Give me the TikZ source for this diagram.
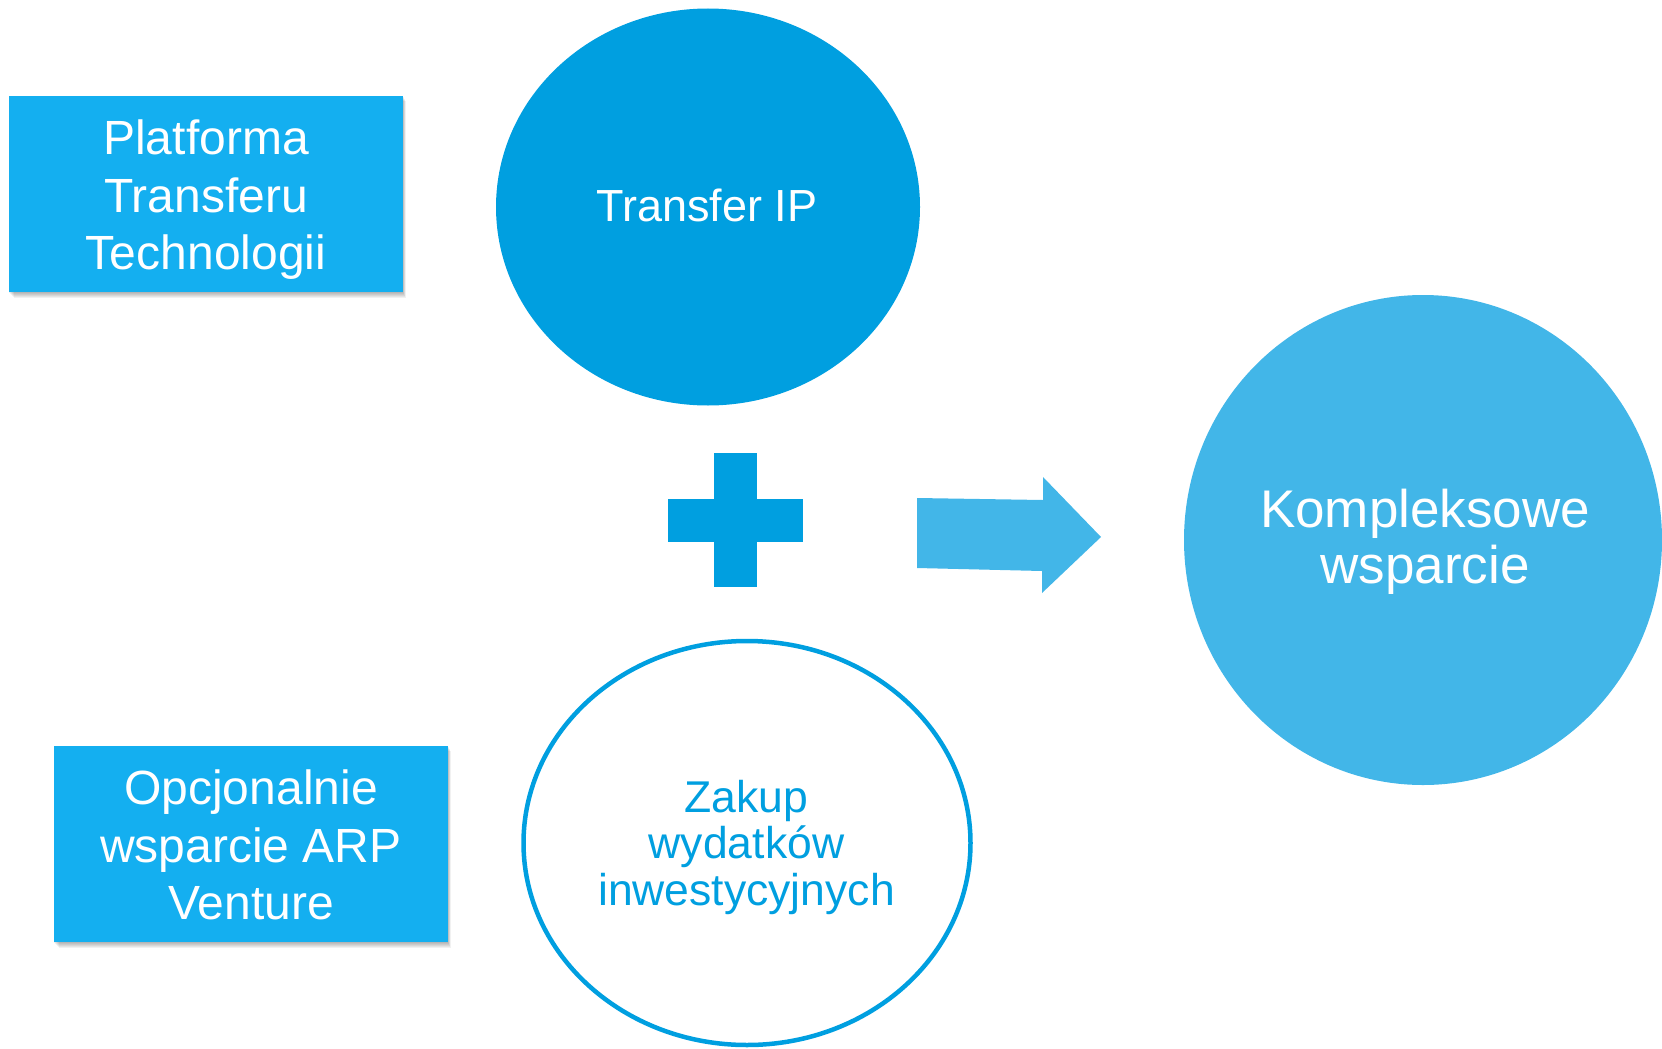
\documentclass[tikz,border=0pt]{standalone}
\usepackage{fontspec}
\setmainfont{Liberation Sans}
\usetikzlibrary{shapes.geometric}
\definecolor{boxcol}{HTML}{14AFF0}
\definecolor{darkcol}{HTML}{009FE0}
\definecolor{lightcol}{HTML}{42B6E8}
\begin{document}
\begin{tikzpicture}[x=1pt,y=-1pt,
  bluebox/.style={rectangle,fill=boxcol,inner sep=0,outer sep=0},
  softshadow/.style={fill=black,opacity=0.055},
  blob/.style={ellipse,inner sep=0,outer sep=0},
  lbl/.style={inner sep=0,outer sep=0,align=center,text=white},
  bigtext/.style={font=\fontsize{48}{57.5}\selectfont}
]
\useasboundingbox (0,0) rectangle (1662,1049);
% soft shadows of boxes (below and slightly right)
\foreach \r in {0,...,5}{
  \fill[softshadow] (9+\r,96+\r) rectangle (403+0.5*\r,292+1+\r);
  \fill[softshadow] (54+\r,746+\r) rectangle (448+0.5*\r,942+1+\r);
}
% boxes
\node[bluebox,minimum width=394pt,minimum height=196pt] (b1) at (206,194) {};
\node[lbl,bigtext] (t1) at (206,200) {Platforma\\Transferu\\Technologii};
\node[bluebox,minimum width=394pt,minimum height=196pt] (b2) at (251,844) {};
\node[lbl,bigtext] (t2) at (251,845) {Opcjonalnie\\wsparcie ARP\\Venture};
% Transfer IP circle
\node[blob,fill=darkcol,minimum width=424pt,minimum height=397pt] (c1) at (708,207) {};
\node[lbl,font=\fontsize{45}{54}\selectfont] (tc1) at (707,205) {Transfer IP};
% Kompleksowe circle
\node[blob,fill=lightcol,minimum width=478pt,minimum height=490pt] (c3) at (1423,540) {};
\node[lbl,font=\fontsize{53}{56}\selectfont] (tc3) at (1425,542) {Kompleksowe\\wsparcie};
% outline circle
\node[blob,draw=darkcol,line width=4.5pt,fill=white,minimum width=447pt,minimum height=404pt] (c2) at (747,843) {};
\node[lbl,text=darkcol,font=\fontsize{44.5}{46.5}\selectfont] (tc2) at (746.5,847) {Zakup\\wydatków\\inwestycyjnych};
% plus
\fill[darkcol] (714,453) rectangle (757,587);
\fill[darkcol] (668,499) rectangle (803,542);
% arrow
\fill[lightcol] (917,498) -- (1043,500) -- (1043,477) -- (1101,537) -- (1042,593) -- (1042,571) -- (917,568) -- cycle;
\end{tikzpicture}
\end{document}
